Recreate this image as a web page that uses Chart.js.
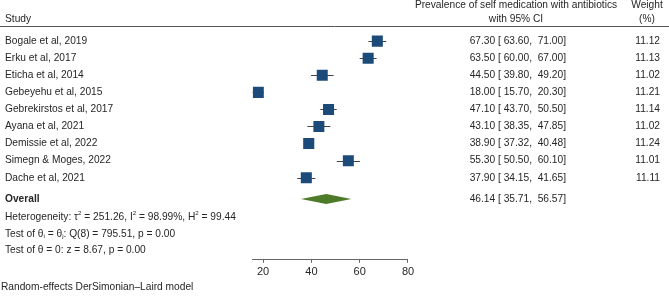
<!DOCTYPE html>
<html lang="en">
<head>
    <meta charset="UTF-8">
    <title>Forest plot - self medication with antibiotics</title>
    <script src="https://cdn.jsdelivr.net/npm/chart.js"></script>
    <style>
        body {
            margin: 0;
            background: white;
        }
        #wrap {
            width: 669px;
            height: 296px;
        }
    </style>
</head>
<body>
    <div id="wrap"><canvas id="forest" width="669" height="296"></canvas></div>

    <script>
        const studies = ['Bogale et al, 2019', 'Erku et al, 2017', 'Eticha et al, 2014', 'Gebeyehu et al, 2015',
            'Gebrekirstos et al, 2017', 'Ayana et al, 2021', 'Demissie et al, 2022', 'Simegn & Moges, 2022', 'Dache et al, 2021'];
        const estimates = [67.30, 63.50, 44.50, 18.00, 47.10, 43.10, 38.90, 55.30, 37.90];
        const lowerCI = [63.60, 60.00, 39.80, 15.70, 43.70, 38.35, 37.32, 50.50, 34.15];
        const upperCI = [71.00, 67.00, 49.20, 20.30, 50.50, 47.85, 40.48, 60.10, 41.65];
        const weights = [11.12, 11.13, 11.02, 11.21, 11.14, 11.02, 11.24, 11.01, 11.11];
        const overallEstimate = 46.14;
        const overallLower = 35.71;
        const overallUpper = 56.57;
        const xTicks = [20, 40, 60, 80];

        // rows on the y scale (0 = first study)
        const overallRow = 9.24;
        const statRows = [10.3, 11.28, 12.25];

        const FONT = "'Liberation Sans', Arial, sans-serif";
        const TEXT = '#262626';
        const fmt = v => v.toFixed(2);

        function drawRich(ctx, x, y, parts, size) {
            let cx = x;
            parts.forEach(([str, mode]) => {
                let s = size, dy = 0;
                if (mode === 'sup') { s = size * 0.6; dy = -size * 0.4; }
                if (mode === 'sub') { s = size * 0.6; dy = size * 0.3; }
                ctx.font = s + 'px ' + FONT;
                ctx.fillText(str, cx, y + dy);
                cx += ctx.measureText(str).width;
            });
        }

        const forestText = {
            id: 'forestText',
            beforeDatasetsDraw(chart) {
                const ctx = chart.ctx;
                const xs = chart.scales.x, ys = chart.scales.y;
                ctx.save();
                // confidence interval whiskers
                ctx.strokeStyle = '#444';
                ctx.lineWidth = 1;
                estimates.forEach((e, i) => {
                    const y = Math.round(ys.getPixelForValue(i)) + 0.5;
                    ctx.beginPath();
                    ctx.moveTo(xs.getPixelForValue(lowerCI[i]), y);
                    ctx.lineTo(xs.getPixelForValue(upperCI[i]), y);
                    ctx.stroke();
                });
                // overall diamond
                const oy = ys.getPixelForValue(overallRow);
                ctx.fillStyle = '#4e7b2a';
                ctx.beginPath();
                ctx.moveTo(xs.getPixelForValue(overallLower), oy);
                ctx.lineTo(xs.getPixelForValue(overallEstimate), oy - 5);
                ctx.lineTo(xs.getPixelForValue(overallUpper), oy);
                ctx.lineTo(xs.getPixelForValue(overallEstimate), oy + 5);
                ctx.closePath();
                ctx.fill();
                ctx.restore();
            },
            afterDraw(chart) {
                const ctx = chart.ctx;
                const ys = chart.scales.y;
                const size = 10.2;
                ctx.save();
                ctx.fillStyle = TEXT;
                ctx.textBaseline = 'middle';
                ctx.font = size + 'px ' + FONT;

                // header
                ctx.textAlign = 'left';
                ctx.fillText('Study', 5, 19);
                ctx.textAlign = 'center';
                ctx.fillText('Prevalence of self medication with antibiotics', 516, 5);
                ctx.fillText('with 95% CI', 516, 19);
                ctx.fillText('Weight', 647, 5);
                ctx.fillText('(%)', 647, 19);
                ctx.strokeStyle = '#555';
                ctx.lineWidth = 1;
                ctx.beginPath();
                ctx.moveTo(0, 26.5);
                ctx.lineTo(669, 26.5);
                ctx.stroke();

                // study rows
                studies.forEach((s, i) => {
                    const y = ys.getPixelForValue(i);
                    ctx.textAlign = 'left';
                    ctx.fillText(s, 5, y);
                    ctx.textAlign = 'right';
                    ctx.fillText(fmt(estimates[i]) + ' [ ' + fmt(lowerCI[i]) + ',  ' + fmt(upperCI[i]) + ']', 566, y);
                    ctx.fillText(fmt(weights[i]), 660, y);
                });

                // overall row
                const oy = ys.getPixelForValue(overallRow);
                ctx.textAlign = 'left';
                ctx.font = 'bold ' + size + 'px ' + FONT;
                ctx.fillText('Overall', 5, oy);
                ctx.font = size + 'px ' + FONT;
                ctx.textAlign = 'right';
                ctx.fillText(fmt(overallEstimate) + ' [ ' + fmt(overallLower) + ',  ' + fmt(overallUpper) + ']', 566, oy);

                // heterogeneity and tests
                ctx.textAlign = 'left';
                drawRich(ctx, 5, ys.getPixelForValue(statRows[0]), [
                    ['Heterogeneity: \u03C4'], ['2', 'sup'], [' = 251.26, I'], ['2', 'sup'],
                    [' = 98.99%, H'], ['2', 'sup'], [' = 99.44']
                ], size);
                drawRich(ctx, 5, ys.getPixelForValue(statRows[1]), [
                    ['Test of \u03B8'], ['i', 'sub'], [' = \u03B8'], ['j', 'sub'], [': Q(8) = 795.51, p = 0.00']
                ], size);
                drawRich(ctx, 5, ys.getPixelForValue(statRows[2]), [
                    ['Test of \u03B8 = 0: z = 8.67, p = 0.00']
                ], size);

                ctx.font = size + 'px ' + FONT;
                ctx.fillText('Random-effects DerSimonian\u2013Laird model', 1, 287);
                ctx.restore();
            }
        };

        const ctx = document.getElementById('forest').getContext('2d');
        new Chart(ctx, {
            type: 'scatter',
            data: {
                datasets: [{
                    data: estimates.map((e, i) => ({ x: e, y: i })),
                    pointStyle: 'rect',
                    pointRadius: weights.map(w => 7.8 * Math.sqrt(w / 11.1)),
                    backgroundColor: '#1c4b7a',
                    borderColor: '#1c4b7a',
                    borderWidth: 0
                }]
            },
            options: {
                responsive: false,
                animation: false,
                events: [],
                layout: { padding: { left: 252.7, right: 261, top: 30, bottom: 14 } },
                plugins: {
                    legend: { display: false },
                    tooltip: { enabled: false }
                },
                scales: {
                    x: {
                        type: 'linear',
                        min: 15.7,
                        max: 80,
                        afterBuildTicks: axis => { axis.ticks = xTicks.map(v => ({ value: v })); },
                        grid: { drawOnChartArea: false, drawTicks: true, tickLength: 3, color: '#666' },
                        border: { color: '#666', width: 1 },
                        ticks: { color: TEXT, padding: 3, font: { size: 11, family: FONT }, maxRotation: 0 }
                    },
                    y: {
                        type: 'linear',
                        display: false,
                        reverse: true,
                        min: -0.651,
                        max: 12.807
                    }
                }
            },
            plugins: [forestText]
        });
    </script>
</body>
</html>
